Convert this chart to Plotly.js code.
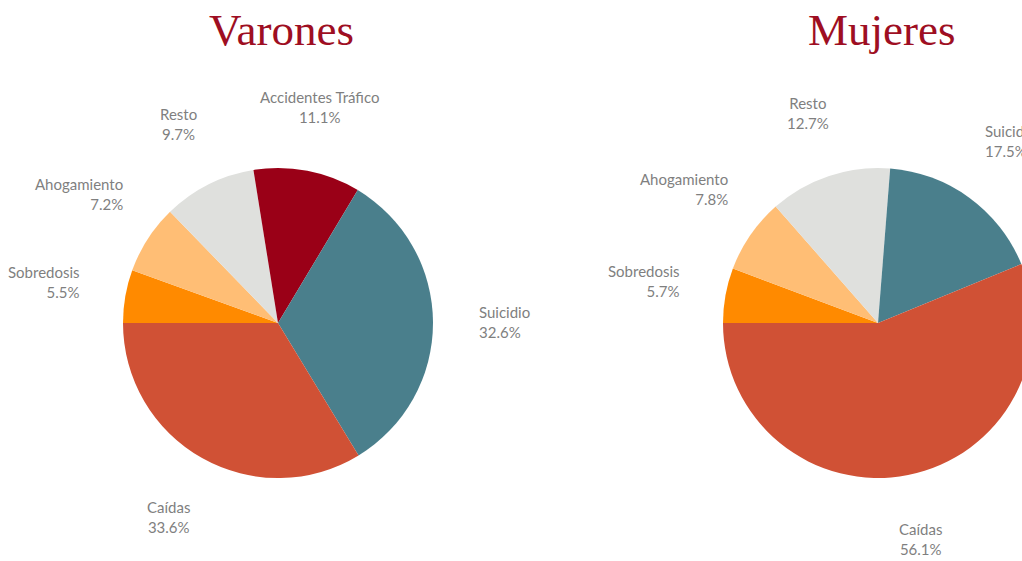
<!DOCTYPE html>
<html><head><meta charset="utf-8">
<script src="https://cdn.plot.ly/plotly-3.0.1.min.js"></script>
<style>html,body{margin:0;padding:0;overflow:hidden;background:#fff;width:1022px;height:561px}</style>
</head><body><div id="chart"></div>
<script>
const categories = ["Sobredosis", "Ahogamiento", "Resto", "Accidentes Tráfico", "Suicidio", "Caídas"];
const varones = [5.5, 7.2, 9.7, 11.1, 32.6, 33.6];
const mujeres = [5.7, 7.8, 12.7, 0, 17.5, 56.1];
const colors = ["#FF8A00", "#FFBE75", "#DFE0DD", "#9A0017", "#4A7F8C", "#D05135"];
const titles = ["Varones", "Mujeres"];

const W = 1100, H = 561;
const R = 155;
const centers = [[278, 323], [878, 323]];
const series = [varones, mujeres];
const labelFont = {family: 'Lato, sans-serif', size: 15, color: '#7F7F7F'};

const cv = document.createElement('canvas').getContext('2d');
cv.font = labelFont.size + 'px Lato';
function textW(lines) { return Math.max(...lines.map(s => cv.measureText(s).width)); }

const traces = [];
const annotations = [];
series.forEach((vals, i) => {
  const [cx, cy] = centers[i];
  traces.push({
    type: 'pie',
    labels: categories,
    values: vals,
    sort: false,
    direction: 'clockwise',
    rotation: -90,
    textinfo: 'none',
    hoverinfo: 'label+percent',
    marker: {colors: colors, line: {width: 0}},
    domain: {x: [(cx - R) / W, (cx + R) / W], y: [1 - (cy + R) / H, 1 - (cy - R) / H]},
    showlegend: false
  });
  annotations.push({
    text: titles[i], xref: 'paper', yref: 'paper',
    x: (cx + 3) / W, y: 1 - 30 / H, xanchor: 'center', yanchor: 'middle',
    showarrow: false,
    font: {family: 'Liberation Serif, serif', size: 45, color: '#9E0E22'}
  });
  const total = vals.reduce((a, b) => a + b, 0);
  let cum = 0;
  vals.forEach((v, j) => {
    const mid = (cum + v / 2) / total * 2 * Math.PI;
    cum += v;
    if (v <= 0) return;
    const dx = -Math.cos(mid), dy = -Math.sin(mid);
    const lines = [categories[j], v.toFixed(1) + '%'];
    const hW = textW(lines) / 2 + 1, hH = 20;
    const t = Math.min(Math.abs(dx) > 1e-6 ? hW / Math.abs(dx) : 1e9,
                       Math.abs(dy) > 1e-6 ? hH / Math.abs(dy) : 1e9);
    const dist = R + 45 + t;
    const px = cx + dx * dist, py = cy + dy * dist;
    const align = dx < -0.5 ? 'right' : (dx > 0.5 ? 'left' : 'center');
    annotations.push({
      text: lines.join('<br>'),
      xref: 'paper', yref: 'paper',
      x: px / W, y: 1 - py / H,
      xanchor: 'center', yanchor: 'middle',
      align: align, showarrow: false,
      font: labelFont
    });
  });
});

Plotly.newPlot('chart', traces, {
  width: W, height: H,
  margin: {l: 0, r: 0, t: 0, b: 0},
  paper_bgcolor: '#fff',
  annotations: annotations
}, {displayModeBar: false, staticPlot: true});
</script></body></html>
